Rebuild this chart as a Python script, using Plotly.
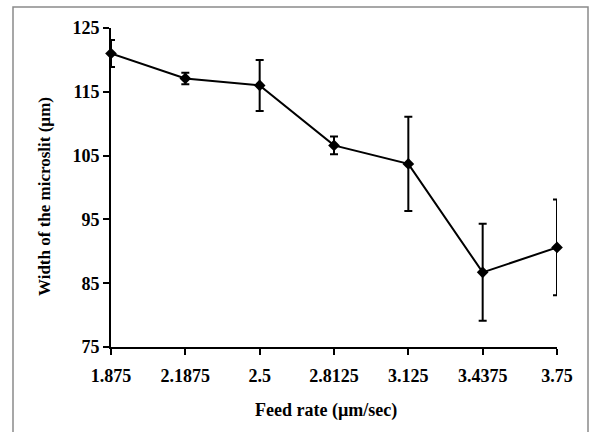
import plotly.graph_objects as go

feed_rate = [1.875, 2.1875, 2.5, 2.8125, 3.125, 3.4375, 3.75]
tick_labels = ["1.875", "2.1875", "2.5", "2.8125", "3.125", "3.4375", "3.75"]
width_um = [121.0, 117.1, 116.0, 106.6, 103.7, 86.7, 90.6]
error_um = [2.1, 0.9, 4.0, 1.4, 7.4, 7.6, 7.5]
y_ticks = [75, 85, 95, 105, 115, 125]

FONT = "Liberation Serif"

fig = go.Figure()
fig.add_trace(go.Scatter(
    x=feed_rate, y=width_um,
    mode="lines+markers",
    line=dict(color="black", width=2),
    marker=dict(symbol="diamond", size=9, color="black"),
    error_y=dict(type="data", array=error_um, visible=True,
                 color="black", thickness=2, width=4),
    showlegend=False,
    cliponaxis=False,
))

W, H = 590, 432
L, R, T, B = 111, 33, 28, 85
pw = W - L - R
ph = H - T - B

def px_x(px):
    return (px - L) / pw

def px_y(py):
    return (H - B - py) / ph

fig.update_layout(
    width=W, height=H,
    margin=dict(l=L, r=R, t=T, b=B),
    paper_bgcolor="white", plot_bgcolor="white",
    font=dict(family=FONT, size=18, color="black"),
    xaxis=dict(
        range=[1.875, 3.75],
        tickvals=feed_rate, ticktext=tick_labels,
        showgrid=False, zeroline=False,
        showline=True, linecolor="black", linewidth=2,
        ticks="outside", ticklen=6, tickwidth=2, tickcolor="black",
        ticklabelstandoff=5,
        tickfont=dict(family=FONT, size=18, color="black", weight="bold"),
    ),
    yaxis=dict(
        range=[75, 125],
        tickvals=y_ticks,
        showgrid=False, zeroline=False,
        showline=True, linecolor="black", linewidth=2,
        ticks="outside", ticklen=6, tickwidth=2, tickcolor="black",
        tickfont=dict(family=FONT, size=18, color="black", weight="bold"),
    ),
    shapes=[dict(
        type="rect", xref="paper", yref="paper",
        x0=px_x(13), x1=px_x(588), y0=px_y(445), y1=px_y(7),
        line=dict(color="#8a8a8a", width=1.5), fillcolor="rgba(0,0,0,0)",
        layer="below",
    )],
    annotations=[
        dict(text="<b>Feed rate (µm/sec)</b>", xref="paper", yref="paper",
             x=px_x(326), y=px_y(410), showarrow=False,
             xanchor="center", yanchor="middle",
             font=dict(family=FONT, size=18, color="black")),
        dict(text="<b>Width of the microslit (µm)</b>", xref="paper", yref="paper",
             x=px_x(44), y=px_y(197), showarrow=False, textangle=-90,
             xanchor="center", yanchor="middle",
             font=dict(family=FONT, size=17, color="black")),
    ],
)

fig.write_html("out.html", config={"displayModeBar": False},
               post_script="document.body.style.margin='0px';document.body.style.overflow='hidden';")
